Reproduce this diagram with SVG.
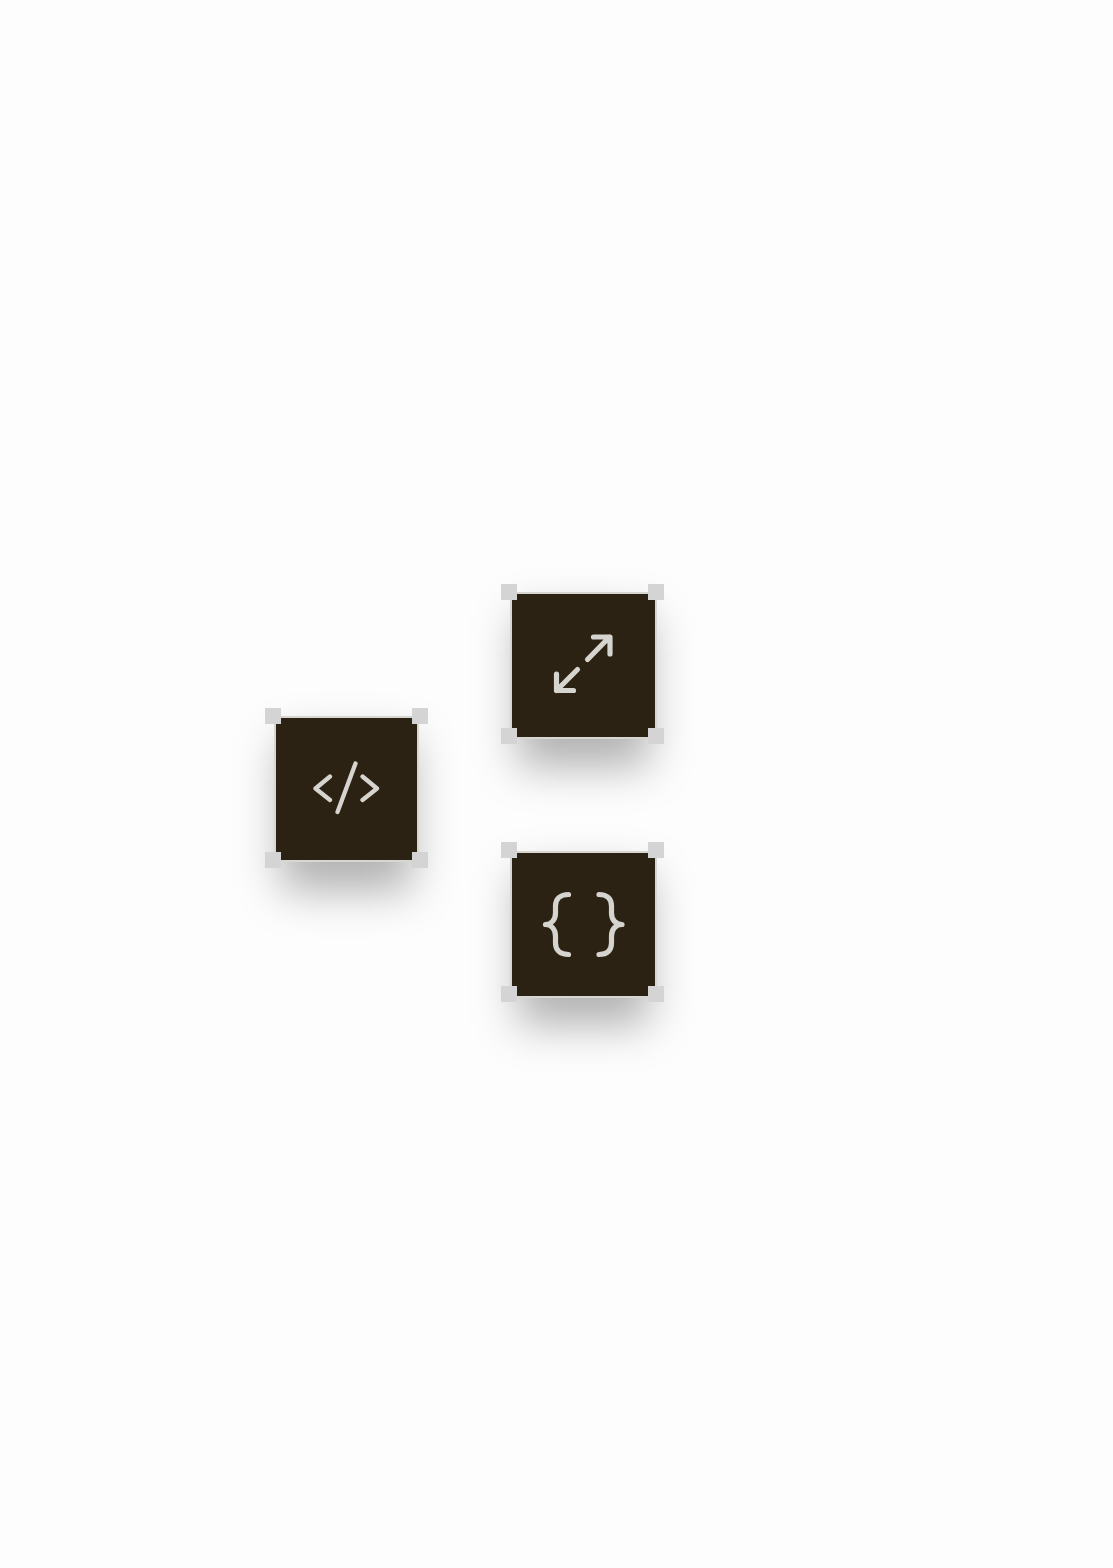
<svg xmlns="http://www.w3.org/2000/svg" width="1113" height="1568" viewBox="0 0 1113 1568">
<style>
.shadow{fill:#000;fill-opacity:.3;filter:url(#blur)}
.box{fill:#2c2213;stroke:#d8d6d0;stroke-width:2}
.handle{fill:#d4d4d4}
.icon{fill:none;stroke:#d6d4cf;stroke-linecap:round;stroke-linejoin:round}
</style>
<defs>
<filter id="blur" x="-60%" y="-60%" width="220%" height="220%"><feGaussianBlur stdDeviation="22"/></filter>
</defs>
<rect width="1113" height="1568" fill="#fdfdfd"/>
<g id="node-expand">
<rect class="shadow" x="518" y="615" width="131" height="152"/>
<rect class="box" x="511" y="593" width="145" height="145"/>
<rect class="handle" x="501" y="584" width="16" height="16"/><rect class="handle" x="648" y="584" width="16" height="16"/><rect class="handle" x="501" y="728" width="16" height="16"/><rect class="handle" x="648" y="728" width="16" height="16"/>
<path class="icon" stroke-width="5.200" d="M587.500 659.500L609.500 637M593.500 637H610V654M577.500 669.500L556.500 690.500M556.500 674V690.500H573.500"/>
</g>
<g id="node-code">
<rect class="shadow" x="281" y="739" width="131" height="152"/>
<rect class="box" x="275" y="717" width="143" height="144"/>
<rect class="handle" x="265" y="708" width="16" height="16"/><rect class="handle" x="412" y="708" width="16" height="16"/><rect class="handle" x="265" y="852" width="16" height="16"/><rect class="handle" x="412" y="852" width="16" height="16"/>
<path class="icon" stroke-width="4.300" d="M330 776.500L315.500 788.500L330 800M362.500 776.500L377 788.500L362.500 800M355.500 763.500L337.500 812"/>
</g>
<g id="node-braces">
<rect class="shadow" x="518" y="873" width="131" height="152"/>
<rect class="box" x="511" y="852" width="145" height="145"/>
<rect class="handle" x="501" y="842" width="16" height="16"/><rect class="handle" x="648" y="842" width="16" height="16"/><rect class="handle" x="501" y="986" width="16" height="16"/><rect class="handle" x="648" y="986" width="16" height="16"/>
<path class="icon" stroke-width="5.200" d="M568.500 894.500C560 894.500 555.500 899 555.500 906V913C555.500 920 551 924.500 545.500 924.500C551 924.500 555.500 929 555.500 936V943C555.500 950 560 954.500 568.500 954.500M599 894.500C607.500 894.500 611.500 899 611.500 906V913C611.500 920 616 924.500 622 924.500C616 924.500 611.500 929 611.500 936V943C611.500 950 607.500 954.500 599 954.500"/>
</g>
<g id="connectors"/>
</svg>
